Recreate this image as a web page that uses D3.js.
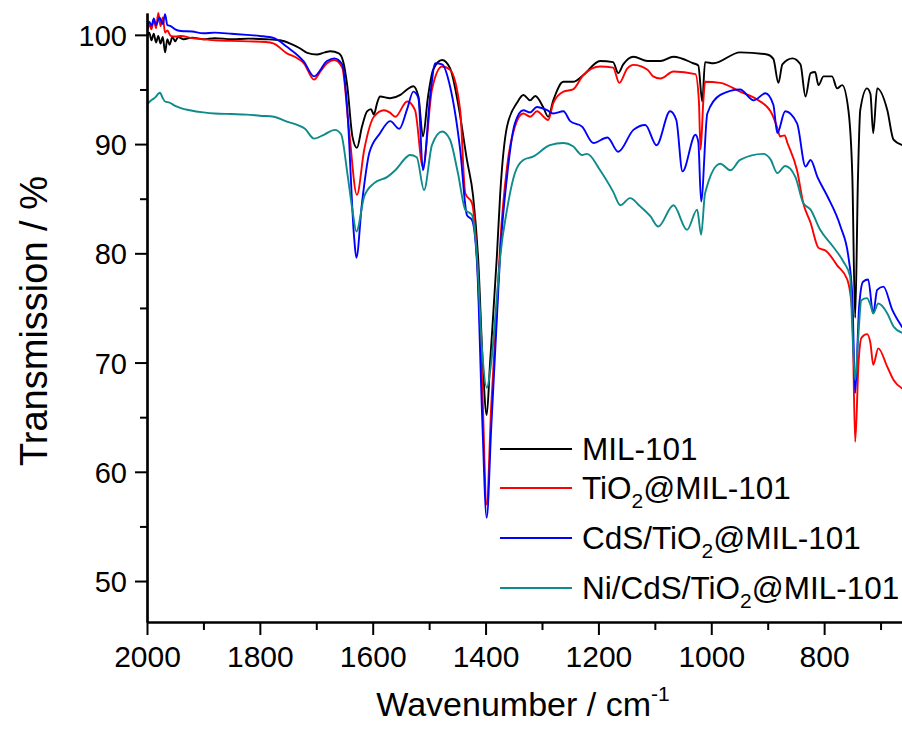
<!DOCTYPE html>
<html>
<head>
<meta charset="utf-8">
<script src="https://cdn.jsdelivr.net/npm/d3@7"></script>
<style>
body { margin: 0; background: #fff; }
text { font-family: "Liberation Sans", Arial, sans-serif; fill: #000; }
</style>
</head>
<body>
<script>
// FTIR spectra, [wavenumber (cm-1), transmission (%)]
var mil101 = [
  [2000, 99.7], [1996, 100.2], [1992, 99.5], [1988, 100.1], [1984, 99.3], [1980, 99.9],
  [1976, 99.2], [1972, 99.8], [1968, 98.4], [1964, 99.6], [1960, 99.1], [1955, 99.8],
  [1950, 99.4], [1945, 99.8], [1935, 99.6], [1920, 99.75], [1900, 99.6], [1880, 99.7],
  [1850, 99.6], [1820, 99.65], [1790, 99.6], [1764, 99.5], [1746, 99.2], [1730, 98.8],
  [1716, 98.35], [1699, 98.2], [1685, 98.4], [1675, 98.5], [1660, 98.3], [1652, 97.5],
  [1645, 95.3], [1636, 90.7], [1628, 89.65], [1619, 91.6], [1610, 93.0], [1603, 93.2],
  [1598, 92.7], [1592, 93.8], [1587, 94.35], [1569, 94.2], [1551, 94.5], [1539, 95.0],
  [1528, 95.3], [1519, 94.35], [1511, 90.7], [1502, 94.35], [1493, 96.8], [1477, 97.7],
  [1463, 96.95], [1449, 93.8], [1433, 88.55], [1422, 85.2], [1413, 79.4], [1405, 70],
  [1398, 65.2], [1392, 70], [1380, 79.7], [1374, 85.5], [1362, 91.6], [1344, 93.8],
  [1333, 94.5], [1321, 94.0], [1312, 94.4], [1298, 93.4], [1289, 92.5], [1280, 94.0],
  [1262, 95.7], [1245, 95.7], [1227, 96.3], [1197, 97.6], [1174, 97.5], [1165, 96.5],
  [1156, 97.3], [1138, 98.0], [1113, 97.6], [1090, 97.6], [1067, 98.0], [1032, 97.4],
  [1023, 97.2], [1016, 93.9], [1011, 97.5], [996, 97.4], [949, 98.4], [901, 98.2],
  [890, 97.8], [881, 95.6], [874, 97.3], [856, 97.85], [842, 97.3], [833, 94.35],
  [824, 96.5], [816, 96.6], [810, 95.4], [801, 96.2], [786, 96.2], [777, 95.1],
  [768, 95.4], [757, 93.1], [750, 87.0], [745, 74.1], [740, 87], [736, 93.1],
  [724, 95.1], [718, 94.6], [713, 91.0], [706, 95.1], [688, 93.1], [677, 90.4], [661, 89.9]
];

var tio2Mil = [
  [2000, 100.3], [1996, 100.9], [1992, 100.5], [1988, 101.4], [1984, 100.6], [1980, 102.0],
  [1976, 100.8], [1972, 101.6], [1968, 100.2], [1964, 100.4], [1958, 99.9], [1950, 99.85],
  [1940, 99.9], [1920, 99.7], [1900, 99.6], [1880, 99.5], [1850, 99.45], [1820, 99.4],
  [1790, 99.35], [1775, 99.2], [1752, 98.3], [1735, 97.9], [1722, 97.4], [1704, 95.9],
  [1692, 96.7], [1681, 97.4], [1668, 97.7], [1654, 97.0], [1642, 91.3], [1628, 85.35],
  [1615, 89.5], [1598, 92.5], [1580, 93.1], [1570, 92.9], [1560, 92.5], [1539, 93.9],
  [1525, 93.1], [1511, 87.9], [1495, 95.0], [1477, 97.1], [1463, 96.8], [1445, 93.1],
  [1436, 85.5], [1424, 84.6], [1415, 79.4], [1406, 68], [1398, 57.0], [1390, 66],
  [1380, 75], [1374, 80.9], [1362, 87.9], [1348, 91.6], [1333, 92.8], [1321, 92.5],
  [1309, 93.0], [1289, 92.2], [1280, 93.75], [1262, 94.8], [1245, 95.0], [1227, 96.3],
  [1197, 97.1], [1174, 97.0], [1163, 95.6], [1149, 96.9], [1138, 97.25], [1113, 96.8],
  [1103, 96.2], [1090, 96.0], [1067, 96.65], [1028, 96.4], [1022, 94], [1019, 89.5],
  [1014, 94], [1011, 95.7], [984, 95.6], [949, 94.8], [918, 94.05], [895, 93.0],
  [883, 91.5], [878, 90.7], [870, 90.8], [865, 90.1], [848, 87.6], [837, 84.6],
  [824, 82.8], [810, 80.5], [796, 80.2], [777, 78.9], [759, 77.6], [750, 74.5],
  [745, 62.75], [739, 70], [734, 72.25], [724, 72.6], [718, 71.8], [713, 69.8],
  [704, 71.3], [688, 69.6], [677, 68.4], [661, 67.6]
];

var cdsTio2Mil = [
  [2000, 100.5], [1996, 101.2], [1992, 100.8], [1988, 101.5], [1984, 100.9], [1978, 101.6],
  [1972, 101.0], [1968, 101.9], [1964, 100.9], [1958, 100.8], [1950, 100.5], [1940, 100.35],
  [1920, 100.3], [1900, 100.15], [1880, 100.2], [1850, 100.1], [1823, 100.0], [1800, 99.9],
  [1775, 99.7], [1752, 98.9], [1722, 97.55], [1704, 96.2], [1681, 97.6], [1668, 97.85],
  [1654, 97.3], [1645, 93.1], [1633, 81.5], [1629, 79.6], [1619, 84.6], [1606, 89.2],
  [1587, 91.0], [1569, 92.1], [1553, 91.4], [1539, 93.2], [1528, 94.8], [1519, 94.2],
  [1511, 87.6], [1498, 94.5], [1489, 97.4], [1477, 97.3], [1463, 95.3], [1445, 89.5],
  [1433, 83.5], [1424, 83.05], [1415, 79], [1406, 65], [1398, 55.8], [1390, 64],
  [1380, 74], [1374, 80.0], [1362, 87.0], [1348, 91.9], [1333, 93.1], [1321, 92.9],
  [1309, 93.4], [1291, 93.1], [1280, 92.8], [1262, 93.0], [1250, 92.1], [1229, 91.6],
  [1209, 90.1], [1184, 90.6], [1165, 89.3], [1138, 91.3], [1117, 91.75], [1097, 89.9],
  [1073, 93.0], [1062, 92.2], [1051, 87.5], [1028, 90.85], [1023, 90.2], [1018, 84.75],
  [1007, 92.8], [984, 94.5], [949, 95.0], [925, 94.0], [904, 94.65], [890, 93.6],
  [883, 91.0], [869, 93.0], [848, 91.9], [833, 87.95], [824, 88.55], [812, 87.0],
  [794, 85.2], [771, 82.45], [757, 79.7], [750, 76], [745, 67.2], [738, 75.1],
  [731, 77.4], [722, 77.6], [713, 74.5], [706, 76.65], [695, 76.95], [679, 74.8], [661, 73.2]
];

var niCdsTio2Mil = [
  [2000, 93.6], [1995, 93.9], [1990, 94.1], [1985, 94.3], [1980, 94.6], [1977, 94.7],
  [1972, 94.2], [1968, 93.9], [1960, 93.8], [1950, 93.5], [1940, 93.3], [1924, 93.1],
  [1900, 92.9], [1880, 92.8], [1850, 92.75], [1823, 92.7], [1800, 92.6], [1775, 92.5],
  [1752, 92.05], [1734, 91.75], [1720, 91.4], [1704, 90.5], [1685, 90.9], [1667, 91.3],
  [1656, 90.9], [1645, 87.35], [1636, 84.0], [1629, 82.0], [1615, 85.2], [1598, 86.4],
  [1574, 87.0], [1560, 87.6], [1539, 88.85], [1534, 89.0], [1522, 88.8], [1509, 85.8],
  [1495, 89.9], [1477, 91.15], [1463, 90.4], [1449, 87.35], [1436, 84.0], [1424, 83.5],
  [1415, 79.5], [1406, 71], [1398, 67.7], [1390, 70], [1380, 76], [1374, 79.7],
  [1362, 84.0], [1348, 87.35], [1333, 88.55], [1316, 88.85], [1286, 89.9], [1262, 90.1],
  [1245, 89.8], [1229, 89.0], [1220, 89.1], [1197, 87.6], [1174, 85.65], [1161, 84.4],
  [1144, 85.05], [1126, 84.3], [1108, 83.4], [1094, 82.45], [1067, 84.4], [1043, 82.15],
  [1025, 84.0], [1018, 81.7], [1011, 85.5], [984, 88.2], [966, 87.6], [949, 88.55],
  [908, 89.1], [895, 88.6], [883, 87.35], [869, 88.0], [851, 87.0], [837, 84.6],
  [824, 84.0], [807, 82.15], [784, 80.6], [766, 79.25], [754, 77.9], [750, 73],
  [745, 68.4], [740, 72], [734, 75.7], [724, 75.9], [718, 75.3], [713, 74.5],
  [704, 75.4], [688, 74.5], [677, 73.3], [661, 72.7]
];

var seriesNames = ["MIL-101", "TiO2@MIL-101", "CdS/TiO2@MIL-101", "Ni/CdS/TiO2@MIL-101"];
var seriesColors = ["#000000", "#ff0000", "#0000ff", "#0f8a8a"];
var seriesData = [mil101, tio2Mil, cdsTio2Mil, niCdsTio2Mil];

var xMajorTicks = [2000, 1800, 1600, 1400, 1200, 1000, 800];
var xMinorTicks = [1900, 1700, 1500, 1300, 1100, 900, 700];
var yMajorTicks = [50, 60, 70, 80, 90, 100];
var yMinorTicks = [55, 65, 75, 85, 95];

var w = 902, h = 733;
var plotLeft = 147, plotRight = 902, plotTop = 13, plotBottom = 622;

var xScale = d3.scaleLinear().domain([2000, 662]).range([plotLeft, plotRight]);
var yScale = d3.scaleLinear().domain([46.25, 102]).range([plotBottom, plotTop]);

var svg = d3.select("body").append("svg")
  .attr("width", w)
  .attr("height", h);

svg.append("defs").append("clipPath").attr("id", "plot")
  .append("rect")
  .attr("x", plotLeft).attr("y", plotTop - 2)
  .attr("width", plotRight - plotLeft).attr("height", plotBottom - plotTop + 2);

// spectra
var line = d3.line()
  .x(function(d) { return xScale(d[0]); })
  .y(function(d) { return yScale(d[1]); })
  .curve(d3.curveMonotoneX);

svg.append("g").attr("clip-path", "url(#plot)")
  .selectAll("path")
  .data(seriesData)
  .enter()
  .append("path")
  .attr("d", line)
  .attr("fill", "none")
  .attr("stroke", function(d, i) { return seriesColors[i]; })
  .attr("stroke-width", 1.9)
  .attr("stroke-linejoin", "round");

// axes
function styleAxis(g) {
  g.select(".domain").attr("stroke", "#000").attr("stroke-width", 2.2);
  g.selectAll(".tick line").attr("stroke", "#000").attr("stroke-width", 2);
}

svg.append("g")
  .attr("transform", "translate(0," + plotBottom + ")")
  .call(d3.axisBottom(xScale).tickValues(xMinorTicks).tickSize(8).tickSizeOuter(0).tickFormat(""))
  .call(styleAxis);

var xAxis = svg.append("g")
  .attr("transform", "translate(0," + plotBottom + ")")
  .call(d3.axisBottom(xScale).tickValues(xMajorTicks).tickSize(13).tickSizeOuter(0).tickFormat(d3.format("d")))
  .call(styleAxis);
xAxis.selectAll("text")
  .attr("y", 45).attr("dy", 0)
  .style("font-size", "30px")
  .style("font-family", "'Liberation Sans', Arial, sans-serif")
  .attr("fill", "#000");

svg.append("g")
  .attr("transform", "translate(" + plotLeft + ",0)")
  .call(d3.axisLeft(yScale).tickValues(yMinorTicks).tickSize(7).tickSizeOuter(0).tickFormat(""))
  .call(styleAxis);

var yAxis = svg.append("g")
  .attr("transform", "translate(" + plotLeft + ",0)")
  .call(d3.axisLeft(yScale).tickValues(yMajorTicks).tickSize(12).tickSizeOuter(0).tickFormat(d3.format("d")))
  .call(styleAxis);
yAxis.selectAll("text")
  .attr("x", -20).attr("dy", "0.36em")
  .style("font-size", "29px")
  .style("font-family", "'Liberation Sans', Arial, sans-serif")
  .attr("fill", "#000");

// axis titles
var xTitle = svg.append("text")
  .attr("x", 523).attr("y", 716)
  .attr("text-anchor", "middle")
  .style("font-size", "34px");
xTitle.append("tspan").text("Wavenumber / cm");
xTitle.append("tspan").attr("dy", -15).style("font-size", "21px").text("-1");

svg.append("text")
  .attr("transform", "translate(47,321) rotate(-90)")
  .attr("text-anchor", "middle")
  .style("font-size", "38px")
  .text("Transmission / %");

// legend
var legendY = 449;
seriesNames.forEach(function(name, i) {
  var parts = name.split("2");
  svg.append("line")
    .attr("x1", 500).attr("x2", 572)
    .attr("y1", legendY).attr("y2", legendY)
    .attr("stroke", seriesColors[i])
    .attr("stroke-width", 1.9);
  var t = svg.append("text")
    .attr("x", 582).attr("y", legendY)
    .attr("dy", "0.36em")
    .style("font-size", "31.5px");
  t.append("tspan").text(parts[0]);
  if (parts.length > 1) {
    t.append("tspan").attr("dy", 9).style("font-size", "21px").text("2");
    t.append("tspan").attr("dy", -9).text(parts[1]);
  }
  legendY += parts.length > 1 ? 50 : 39;
});
</script>
</body>
</html>
